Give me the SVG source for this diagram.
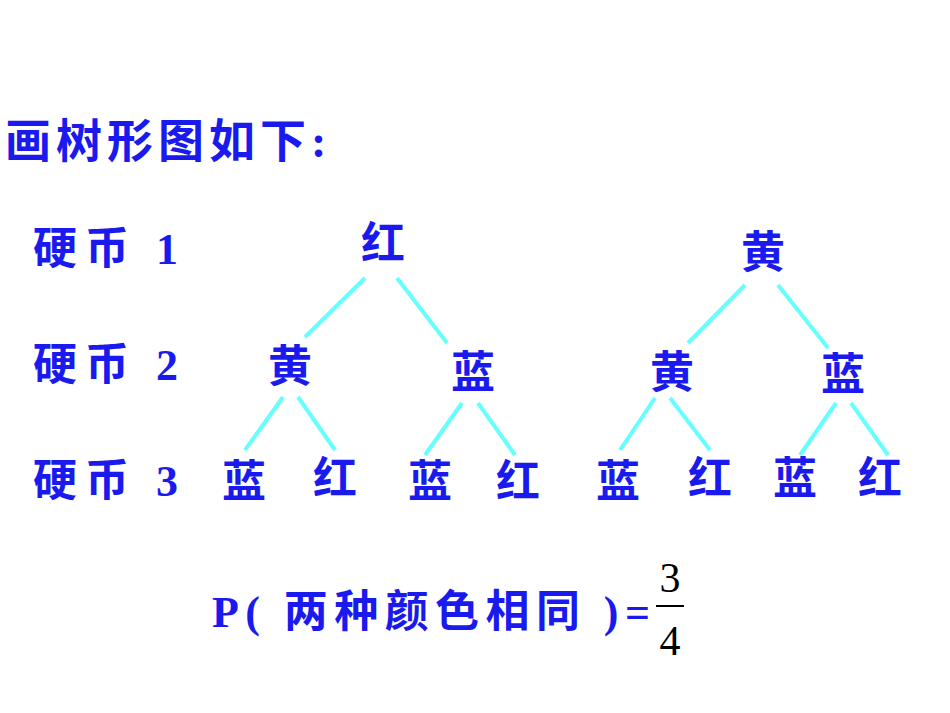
<svg xmlns="http://www.w3.org/2000/svg" width="950" height="713" viewBox="0 0 950 713">
<style>
.t{fill:#1a1aee;font-family:"Liberation Serif","Noto Sans CJK SC",serif;font-weight:bold;}
.n{font-size:44px;text-anchor:middle}
.l{stroke:#66ffff;stroke-width:4;fill:none}
</style>
<rect width="950" height="713" fill="#fff"/>
<text class="t" x="5" y="157" font-size="46" letter-spacing="5">画树形图如下:</text>
<g id="labels">
<text class="t" x="33" y="264" font-size="44" textLength="145">硬币 1</text>
<text class="t" x="33" y="380" font-size="44" textLength="145">硬币 2</text>
<text class="t" x="33" y="496" font-size="44" textLength="145">硬币 3</text>
</g>
<g id="connectors">
<line class="l" x1="365" y1="278" x2="305" y2="337"/>
<line class="l" x1="397" y1="278" x2="447" y2="343"/>
<line class="l" x1="745" y1="285" x2="688" y2="343"/>
<line class="l" x1="778" y1="285" x2="828" y2="348"/>
<line class="l" x1="283" y1="397" x2="245" y2="450"/>
<line class="l" x1="298" y1="397" x2="335" y2="450"/>
<line class="l" x1="462" y1="403" x2="425" y2="455"/>
<line class="l" x1="478" y1="403" x2="515" y2="455"/>
<line class="l" x1="655" y1="398" x2="620" y2="450"/>
<line class="l" x1="670" y1="398" x2="710" y2="450"/>
<line class="l" x1="836" y1="403" x2="800" y2="455"/>
<line class="l" x1="851" y1="403" x2="888" y2="455"/>
</g>
<g id="n1"><text class="t n" x="383" y="259">红</text></g>
<g id="n2"><text class="t n" x="763" y="268">黄</text></g>
<g id="n3"><text class="t n" x="290" y="382">黄</text></g>
<g id="n4"><text class="t n" x="473" y="388">蓝</text></g>
<g id="n5"><text class="t n" x="672" y="388">黄</text></g>
<g id="n6"><text class="t n" x="843" y="390">蓝</text></g>
<g id="n7"><text class="t n" x="244" y="497">蓝</text></g>
<g id="n8"><text class="t n" x="335" y="494">红</text></g>
<g id="n9"><text class="t n" x="430" y="497">蓝</text></g>
<g id="n10"><text class="t n" x="518" y="497">红</text></g>
<g id="n11"><text class="t n" x="618" y="497">蓝</text></g>
<g id="n12"><text class="t n" x="710" y="494">红</text></g>
<g id="n13"><text class="t n" x="795" y="494">蓝</text></g>
<g id="n14"><text class="t n" x="880" y="494">红</text></g>
<g id="formula">
<text class="t" x="212" y="627" font-size="44" textLength="438">P( 两种颜色相同 )=</text>
<text x="670" y="592" font-size="42" text-anchor="middle" font-family="Liberation Serif,serif" fill="#000">3</text>
<line x1="656" y1="606" x2="684" y2="606" stroke="#000" stroke-width="2"/>
<text x="670" y="655" font-size="42" text-anchor="middle" font-family="Liberation Serif,serif" fill="#000">4</text>
</g>
</svg>
